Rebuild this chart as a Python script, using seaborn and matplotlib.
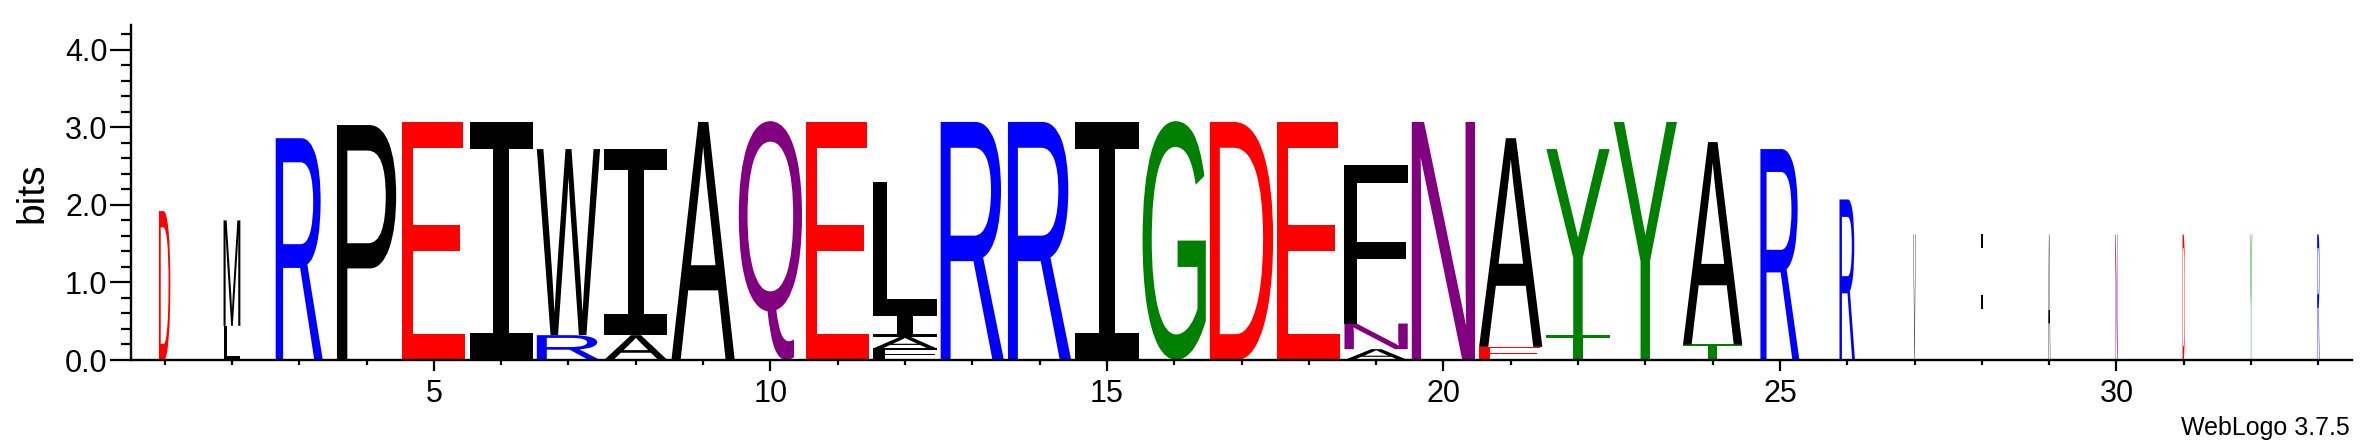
import numpy as np
import pandas as pd
import matplotlib
matplotlib.use("Agg")
import matplotlib.pyplot as plt
import seaborn as sns
from matplotlib.textpath import TextPath
from matplotlib.font_manager import FontProperties
from matplotlib.patches import PathPatch
from matplotlib.transforms import Affine2D
from matplotlib.ticker import MultipleLocator, FormatStrFormatter, FixedLocator

positions = list(range(1, 34))
# letters in each stack, bottom -> top
stack_letters = [
    "D", "LM", "R", "P", "E", "I", "RW", "AI", "A", "Q", "E", "FAIL",
    "R", "R", "I", "G", "D", "E", "ANF", "N", "EA", "TY", "Y", "TA",
    "R", "R", "V", "F", "A", "N", "D", "Y", "R",
]
# bits per letter, bottom -> top
stack_bits = [
    [1.92], [0.44, 1.36], [2.86], [3.03], [3.07], [3.07], [0.32, 2.40],
    [0.32, 2.40], [3.07], [3.08], [3.07], [0.15, 0.15, 0.30, 1.70],
    [3.07], [3.07], [3.07], [3.08], [3.07], [3.07], [0.14, 0.33, 2.04],
    [3.07], [0.17, 2.69], [0.32, 2.40], [3.07], [0.20, 2.61],
    [2.72], [2.07], [1.62], [1.62], [1.62], [1.62], [1.62], [1.62], [1.62],
]
# relative stack width (fraction of a column)
stack_width = [
    0.17, 0.25, 0.70, 0.88, 0.94, 0.94, 0.94, 0.94, 0.94, 0.94, 0.94, 0.94,
    0.94, 0.94, 0.94, 0.94, 0.94, 0.94, 0.94, 0.94, 0.94, 0.94, 0.94, 0.88,
    0.58, 0.23, 0.035, 0.035, 0.035, 0.035, 0.035, 0.035, 0.035,
]
x_major_ticks = [5, 10, 15, 20, 25, 30]

# WebLogo "chemistry" colour scheme
residue_color = {}
for aa in "GSTYC":
    residue_color[aa] = "green"
for aa in "NQ":
    residue_color[aa] = "purple"
for aa in "KRH":
    residue_color[aa] = "blue"
for aa in "DE":
    residue_color[aa] = "red"
for aa in "AVLIPWFM":
    residue_color[aa] = "black"

totals = [sum(b) for b in stack_bits]
df = pd.DataFrame({"position": positions, "bits": totals})

# ---------------- figure ----------------
sns.set_theme(style="ticks")
plt.rcParams["font.family"] = ["Liberation Sans", "DejaVu Sans"]

fig = plt.figure(figsize=(23.75, 4.44), dpi=100)
ax = fig.add_axes([131 / 2375, 84 / 444, (2352 - 131) / 2375, (360 - 25) / 444])

# invisible seaborn bars establish the numeric scale of the stacks
sns.barplot(data=df, x="position", y="bits", native_scale=True, ax=ax,
            facecolor="none", edgecolor="none", linewidth=0, errorbar=None)

fp_main = FontProperties(family="Liberation Sans", weight="normal")
fp_I = FontProperties(family="DejaVu Sans Mono", weight="normal")


def draw_glyph(ch, xc, y0, w, h, color):
    tp = TextPath((0, 0), ch, size=1, prop=fp_I if ch == "I" else fp_main)
    bb = tp.get_extents()
    tr = (Affine2D().translate(-bb.x0, -bb.y0)
          .scale(w / bb.width, h / bb.height)
          .translate(xc - w / 2, y0))
    ax.add_patch(PathPatch(tr.transform_path(tp), facecolor=color,
                           edgecolor="none", lw=0))


for pos, letters, bits, w in zip(positions, stack_letters, stack_bits, stack_width):
    y = 0.0
    for ch, h in zip(letters, bits):
        draw_glyph(ch, pos, y, w, h, residue_color[ch])
        y += h

ax.set_xlim(0.5, 33.5)
ax.set_ylim(0, 4.32)

ax.xaxis.set_major_locator(FixedLocator(x_major_ticks))
ax.xaxis.set_minor_locator(FixedLocator(positions))
ax.set_xticklabels([str(t) for t in x_major_ticks])
ax.yaxis.set_major_locator(MultipleLocator(1.0))
ax.yaxis.set_minor_locator(MultipleLocator(0.2))
ax.yaxis.set_major_formatter(FormatStrFormatter("%.1f"))

ax.tick_params(axis="both", which="both", direction="out", color="black",
               width=1.6, labelsize=22, labelcolor="black")
ax.tick_params(axis="y", which="major", length=15, pad=2)
ax.tick_params(axis="y", which="minor", length=7.5)
ax.tick_params(axis="x", which="major", length=8, pad=6)
ax.tick_params(axis="x", which="minor", length=3.5)

ax.set_xlabel("")
ax.set_ylabel("bits", fontsize=28, labelpad=10, color="black")
sns.despine(ax=ax)
for side in ("left", "bottom"):
    ax.spines[side].set_linewidth(1.7)
    ax.spines[side].set_color("black")
ax.set_facecolor("white")
ax.grid(False)

fig.text(2350 / 2375, 9 / 444, "WebLogo 3.7.5", ha="right", va="baseline",
         fontsize=18, color="black")

fig.savefig("out.png", dpi=100, facecolor="white")
